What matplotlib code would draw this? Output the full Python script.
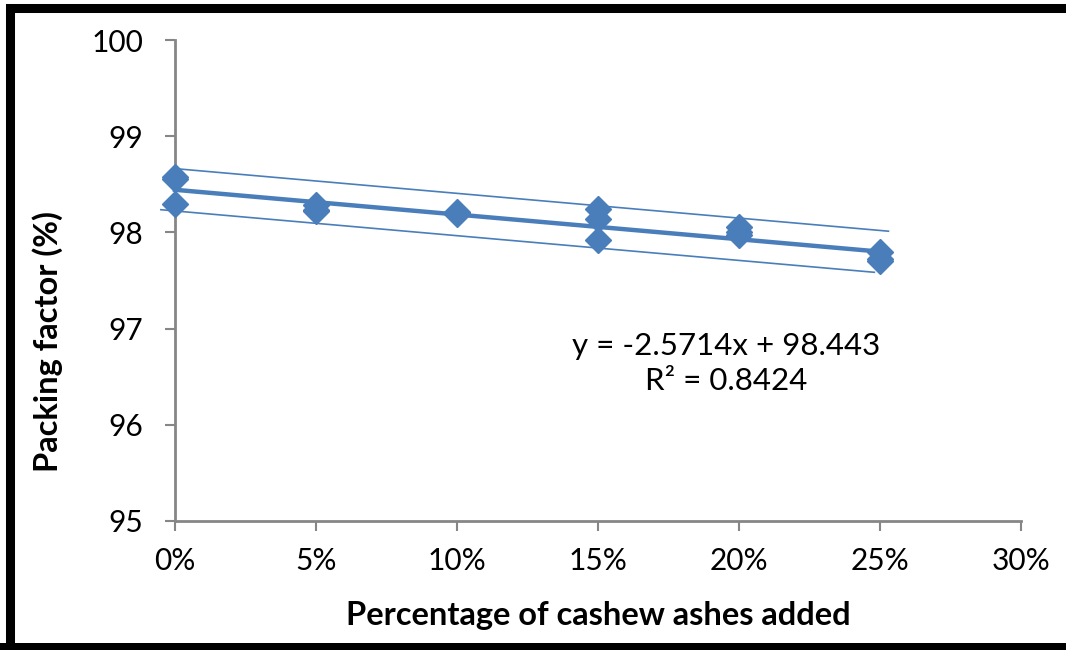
import numpy as np
import matplotlib.pyplot as plt
from matplotlib.patches import Rectangle
from matplotlib.ticker import FuncFormatter

plt.rcParams['font.family'] = ['Lato', 'DejaVu Sans']

# ash content (fraction) and measured packing factor (%)
ash = np.array([0.00, 0.00, 0.00,
                0.05, 0.05, 0.05,
                0.10, 0.10, 0.10,
                0.15, 0.15, 0.15,
                0.20, 0.20, 0.20,
                0.25, 0.25, 0.25])
packing = np.array([98.58, 98.55, 98.30,
                    98.28, 98.23, 98.22,
                    98.21, 98.20, 98.19,
                    98.24, 98.14, 97.92,
                    98.06, 98.00, 97.97,
                    97.80, 97.72, 97.70])

# linear trend as reported
slope = -2.5714
intercept = 98.443
r2 = 0.8424
band = 0.22

blue = '#4a7ebb'
grey = '#868686'

fig = plt.figure(figsize=(10.66, 6.5), dpi=100)
ax = fig.add_axes([175/1066, 1 - 521/650, (1021 - 175)/1066, (521 - 40)/650])

ax.plot(ash, packing, linestyle='none', marker='D', markersize=13,
        color=blue, zorder=3, clip_on=False)

xt = np.array([0.0, 0.25])
ax.plot(xt, slope*xt + intercept, color=blue, lw=3.2, zorder=2, clip_on=False)
xu = np.array([0.0, 0.253])
ax.plot(xu, slope*xu + intercept + band, color=blue, lw=1.2, clip_on=False)
xl = np.array([-0.005, 0.248])
ax.plot(xl, slope*xl + intercept - band, color=blue, lw=1.2, clip_on=False)

ax.set_xlim(0, 0.30)
ax.set_ylim(95, 100)
ax.set_xticks(np.arange(0, 0.301, 0.05))
ax.set_yticks(range(95, 101))
ax.xaxis.set_major_formatter(FuncFormatter(lambda v, p: f'{v*100:.0f}%'))

for s in ['top', 'right']:
    ax.spines[s].set_visible(False)
for s in ['left', 'bottom']:
    ax.spines[s].set_color(grey)
    ax.spines[s].set_linewidth(2)
ax.tick_params(axis='both', direction='out', length=7, width=1.5, color=grey,
               labelsize=21.5)
ax.tick_params(axis='y', pad=16)
ax.tick_params(axis='x', pad=12)

ax.text(0.1954, 96.64, f'y = {slope}x + {intercept}\nR² = {r2}',
        ha='center', va='center', fontsize=22.5, linespacing=1.3)

fig.text(48/1066, 1 - 342/650, 'Packing factor (%)', rotation=90,
         ha='center', va='center', fontsize=23.5, fontweight='bold')
fig.text(598/1066, 1 - 615/650, 'Percentage of cashew ashes added',
         ha='center', va='center', fontsize=23.5, fontweight='bold')

# thick black frame; right edge runs off the canvas
fig.patches.append(Rectangle((9.5/1066, -0.02), 1.2, 1 - 8/650 + 0.02,
                             transform=fig.transFigure, fill=False,
                             edgecolor='black', linewidth=6.5))
fig.patches.append(Rectangle((0, 0), 1, 7/650, transform=fig.transFigure,
                             facecolor='black', edgecolor='none'))

fig.savefig('out.png', dpi=100)
